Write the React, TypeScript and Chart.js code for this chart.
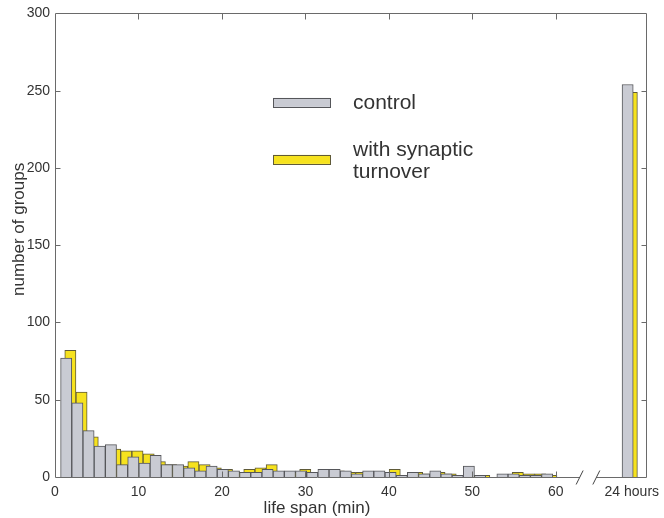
import React, { useEffect, useRef } from 'react';
import { Chart, registerables } from 'chart.js';

Chart.register(...registerables);

// Histogram bin centres (minutes)
const binCenters = [
  1.34, 2.68, 4.02, 5.36, 6.7, 8.04, 9.38, 10.72, 12.06, 13.4, 14.74,
  16.08, 17.42, 18.76, 20.1, 21.44, 22.78, 24.12, 25.46, 26.8, 28.14, 29.48,
  30.82, 32.16, 33.5, 34.84, 36.18, 37.52, 38.86, 40.2, 41.54, 42.88, 44.22,
  45.56, 46.9, 48.24, 49.58, 50.92, 52.26, 53.6, 54.94, 56.28, 57.62, 58.96,
];

// Counts per bin
const controlCounts = [
  77, 48, 30, 20, 21, 8, 13, 9, 14, 8, 8,
  6, 4, 7, 5, 4, 3, 3, 5, 4, 4, 4,
  3, 5, 5, 4, 2, 4, 4, 3, 1, 3, 2,
  4, 2, 1, 7, 1, 0, 2, 2, 1, 1, 2,
];
const turnoverCounts = [
  82, 55, 26, 18, 18, 17, 17, 15, 10, 8, 7,
  10, 8, 6, 5, 3, 5, 6, 8, 3, 3, 5,
  2, 4, 4, 3, 3, 3, 3, 5, 1, 3, 2,
  3, 2, 1, 1, 1, 0, 1, 3, 2, 2, 1,
];

// Groups still alive after 24 hours, shown past the axis break
const dayPosition = 68.6;
const dayLabelPosition = 69.1;
const dayLabel = '24 hours';
const controlDay = 254;
const turnoverDay = 249;

const xTickValues = [0, 10, 20, 30, 40, 50, 60];
const yTickValues = [0, 50, 100, 150, 200, 250, 300];
const breakPositions = [62.85, 64.85];

const seriesNames = ['control', 'with synaptic turnover'];
const legendLines = [['control'], ['with synaptic', 'turnover']];
const xTitle = 'life span (min)';
const yTitle = 'number of groups';

const FONT = "'Liberation Sans', Arial, Helvetica, sans-serif";
const TEXT = '#333333';
const FRAME = '#6a6a6a';
const GREY_FILL = '#c9cbd3';
const GREY_EDGE = '#55565a';
const YELLOW_FILL = '#f6e21e';
const YELLOW_EDGE = '#5f5a38';
const SERIES_FILL = [GREY_FILL, YELLOW_FILL];
const SERIES_EDGE = [GREY_EDGE, YELLOW_EDGE];

const crisp = (v: number) => Math.round(v) + 0.5;

const decorPlugin = {
  id: 'decor',
  afterDraw(chart: any) {
    const { ctx, chartArea: a } = chart;
    const xs = chart.scales.x;
    const ys = chart.scales.y;
    const L = crisp(a.left);
    const R = crisp(a.right);
    const T = crisp(a.top);
    const B = crisp(a.bottom);

    ctx.save();
    ctx.strokeStyle = FRAME;
    ctx.lineWidth = 1;

    // box: left, top, right
    ctx.beginPath();
    ctx.moveTo(L, B);
    ctx.lineTo(L, T);
    ctx.lineTo(R, T);
    ctx.lineTo(R, B);
    ctx.stroke();

    // bottom axis with a break between the minute range and 24 hours
    const p1 = xs.getPixelForValue(breakPositions[0]);
    const p2 = xs.getPixelForValue(breakPositions[1]);
    ctx.beginPath();
    ctx.moveTo(L, B);
    ctx.lineTo(p1, B);
    ctx.moveTo(p2, B);
    ctx.lineTo(R, B);
    ctx.stroke();
    ctx.strokeStyle = '#444444';
    ctx.beginPath();
    for (const p of [p1, p2]) {
      ctx.moveTo(p - 3.5, B + 7);
      ctx.lineTo(p + 3.5, B - 7);
    }
    ctx.stroke();

    // inward tick marks
    ctx.strokeStyle = FRAME;
    ctx.beginPath();
    for (const v of yTickValues) {
      if (v === 0 || v === 300) continue;
      const py = crisp(ys.getPixelForValue(v));
      ctx.moveTo(L, py);
      ctx.lineTo(L + 5, py);
      ctx.moveTo(R, py);
      ctx.lineTo(R - 5, py);
    }
    for (const v of xTickValues) {
      if (v === 0) continue;
      const px = crisp(xs.getPixelForValue(v));
      ctx.moveTo(px, B);
      ctx.lineTo(px, B - 6);
      ctx.moveTo(px, T);
      ctx.lineTo(px, T + 6);
    }
    ctx.stroke();

    // legend
    const swX = a.left + 218;
    const swW = 57;
    const swH = 9;
    const swY = [a.top + 84.5, a.top + 141.5];
    const baselines = [[a.top + 95.5], [a.top + 143, a.top + 164.5]];
    ctx.font = `21px ${FONT}`;
    ctx.textBaseline = 'alphabetic';
    ctx.textAlign = 'left';
    for (let i = 0; i < 2; i++) {
      ctx.fillStyle = SERIES_FILL[i];
      ctx.fillRect(swX, swY[i], swW, swH);
      ctx.strokeStyle = SERIES_EDGE[i];
      ctx.strokeRect(crisp(swX), crisp(swY[i]), swW, swH);
      ctx.fillStyle = TEXT;
      legendLines[i].forEach((line, j) => {
        ctx.fillText(line, a.left + 298, baselines[i][j]);
      });
    }

    // axis titles
    ctx.font = `17px ${FONT}`;
    ctx.fillStyle = TEXT;
    ctx.textAlign = 'center';
    ctx.textBaseline = 'middle';
    ctx.fillText(xTitle, a.left + 262, a.bottom + 31);
    ctx.translate(19, a.top + 216);
    ctx.rotate(-Math.PI / 2);
    ctx.fillText(yTitle, 0, 0);
    ctx.restore();
  },
};

export default function App() {
  const canvasRef = useRef<HTMLCanvasElement | null>(null);

  useEffect(() => {
    const canvas = canvasRef.current;
    if (!canvas) return;

    const controlData = binCenters
      .map((x, i) => ({ x, y: controlCounts[i] }))
      .concat([{ x: dayPosition, y: controlDay }]);
    const turnoverData = binCenters
      .map((x, i) => ({ x, y: turnoverCounts[i] }))
      .concat([{ x: dayPosition, y: turnoverDay }]);

    const chart = new Chart(canvas, {
      type: 'bar',
      data: {
        datasets: [
          {
            label: seriesNames[0],
            data: controlData,
            xAxisID: 'x',
            backgroundColor: GREY_FILL,
            borderColor: GREY_EDGE,
            borderWidth: 1,
            barPercentage: 1,
            categoryPercentage: 1,
            grouped: false,
          },
          {
            label: seriesNames[1],
            data: turnoverData,
            xAxisID: 'x2',
            backgroundColor: YELLOW_FILL,
            borderColor: YELLOW_EDGE,
            borderWidth: 1,
            barPercentage: 1,
            categoryPercentage: 1,
            grouped: false,
          },
        ],
      },
      options: {
        responsive: false,
        animation: false,
        events: [],
        layout: { padding: { top: 13, right: 18, left: 0, bottom: 0 } },
        plugins: {
          legend: { display: false },
          tooltip: { enabled: false },
        },
        scales: {
          x: {
            type: 'linear',
            offset: false,
            min: 0,
            max: 70.8,
            grid: { display: false, drawTicks: false, offset: false },
            border: { display: false },
            afterBuildTicks: (s: any) => {
              s.ticks = xTickValues
                .map((value) => ({ value }))
                .concat([{ value: dayLabelPosition }]);
            },
            afterFit: (s: any) => {
              s.height = 41;
              s.paddingLeft = 0;
              s.paddingRight = 0;
            },
            ticks: {
              autoSkip: false,
              maxRotation: 0,
              padding: 7,
              color: TEXT,
              font: { family: FONT, size: 14 },
              callback: (v: any) =>
                v === dayLabelPosition ? dayLabel : String(v),
            },
          },
          // the second series is drawn half a minute to the right
          x2: {
            type: 'linear',
            display: false,
            offset: false,
            min: -0.5,
            max: 70.3,
            grid: { offset: false },
            afterBuildTicks: (s: any) => {
              s.ticks = [];
            },
          },
          y: {
            type: 'linear',
            min: 0,
            max: 300,
            grid: { display: false, drawTicks: false },
            border: { display: false },
            afterBuildTicks: (s: any) => {
              s.ticks = yTickValues.map((value) => ({ value }));
            },
            afterFit: (s: any) => {
              s.width = 55;
            },
            ticks: {
              padding: 5,
              color: TEXT,
              font: { family: FONT, size: 14 },
            },
          },
        },
      },
      plugins: [decorPlugin],
    });

    return () => chart.destroy();
  }, []);

  return (
    <div style={{ position: 'fixed', left: 0, top: 0, width: 664, height: 518, background: '#ffffff' }}>
      <canvas ref={canvasRef} width={664} height={518} style={{ display: 'block' }} />
    </div>
  );
}
